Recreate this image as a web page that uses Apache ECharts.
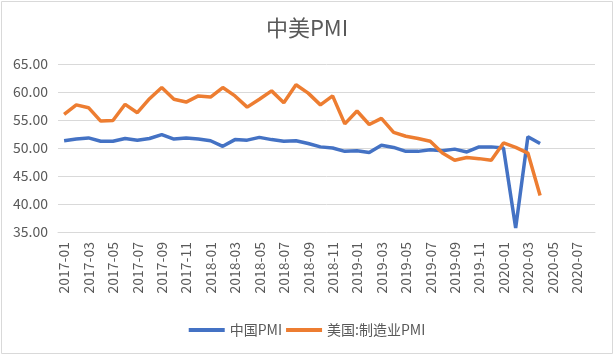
<!DOCTYPE html>
<html><head><meta charset="utf-8">
<script src="https://cdn.jsdelivr.net/npm/echarts@6/dist/echarts.min.js"></script>
<style>html,body{margin:0;padding:0;background:#fff}#c{width:614px;height:355px}</style>
</head><body><div id="c"></div>
<script>
const categories = (function(){const a=[];for(let y=2017;y<=2020;y++){for(let m=1;m<=12;m++){if(y===2020&&m>8)break;a.push(y+'-'+(m<10?'0'+m:m));}}return a;})();
const chinaPMI = [51.3,51.6,51.8,51.2,51.2,51.7,51.4,51.7,52.4,51.6,51.8,51.6,
  51.3,50.3,51.5,51.4,51.9,51.5,51.2,51.3,50.8,50.2,50.0,49.4,
  49.5,49.2,50.5,50.1,49.4,49.4,49.7,49.5,49.8,49.3,50.2,50.2,
  50.0,35.7,52.0,50.8];
const usPMI = [56.0,57.7,57.2,54.8,54.9,57.8,56.3,58.8,60.8,58.7,58.2,59.3,
  59.1,60.8,59.3,57.3,58.7,60.2,58.1,61.3,59.8,57.7,59.3,54.3,
  56.6,54.2,55.3,52.8,52.1,51.7,51.2,49.1,47.8,48.3,48.1,47.8,
  50.9,50.1,49.1,41.5];
const seriesNames = ['中国PMI','美国:制造业PMI'];
const titleText = '中美PMI';

const font = '"Noto Sans CJK SC","Microsoft YaHei",sans-serif';
const chart = echarts.init(document.getElementById('c'), null, {renderer:'canvas'});
chart.setOption({
  animation:false,
  textStyle:{fontFamily:font},
  title:{text:titleText,left:'center',top:12,textStyle:{fontSize:22,fontWeight:'normal',color:'#595959',fontFamily:font}},
  graphic:[{type:'rect',shape:{x:1.5,y:1.5,width:611,height:352},style:{fill:'none',stroke:'#d9d9d9',lineWidth:1}}],
  grid:{left:58,right:19,top:64,bottom:123},
  legend:{top:318,left:'center',itemWidth:36,itemHeight:4,itemGap:4,icon:'rect',
    textStyle:{fontSize:14,color:'#595959',fontFamily:font},data:seriesNames},
  xAxis:{type:'category',data:categories,boundaryGap:true,
    axisLine:{lineStyle:{color:'#d9d9d9'}},
    axisTick:{interval:1,length:6,lineStyle:{color:'#d9d9d9'}},
    axisLabel:{interval:1,rotate:90,color:'#595959',fontSize:14,margin:10,fontFamily:font}},
  yAxis:{type:'value',min:35,max:65,interval:5,
    axisLine:{show:false},axisTick:{show:false},
    splitLine:{lineStyle:{color:'#d9d9d9'}},
    axisLabel:{formatter:v=>v.toFixed(2),color:'#595959',fontSize:14,margin:10,fontFamily:font}},
  series:[
    {name:seriesNames[0],type:'line',data:chinaPMI,symbol:'none',lineStyle:{width:3.5,color:'#4472c4'},itemStyle:{color:'#4472c4'}},
    {name:seriesNames[1],type:'line',data:usPMI,symbol:'none',lineStyle:{width:3.5,color:'#ed7d31'},itemStyle:{color:'#ed7d31'}}
  ]
});
</script></body></html>
